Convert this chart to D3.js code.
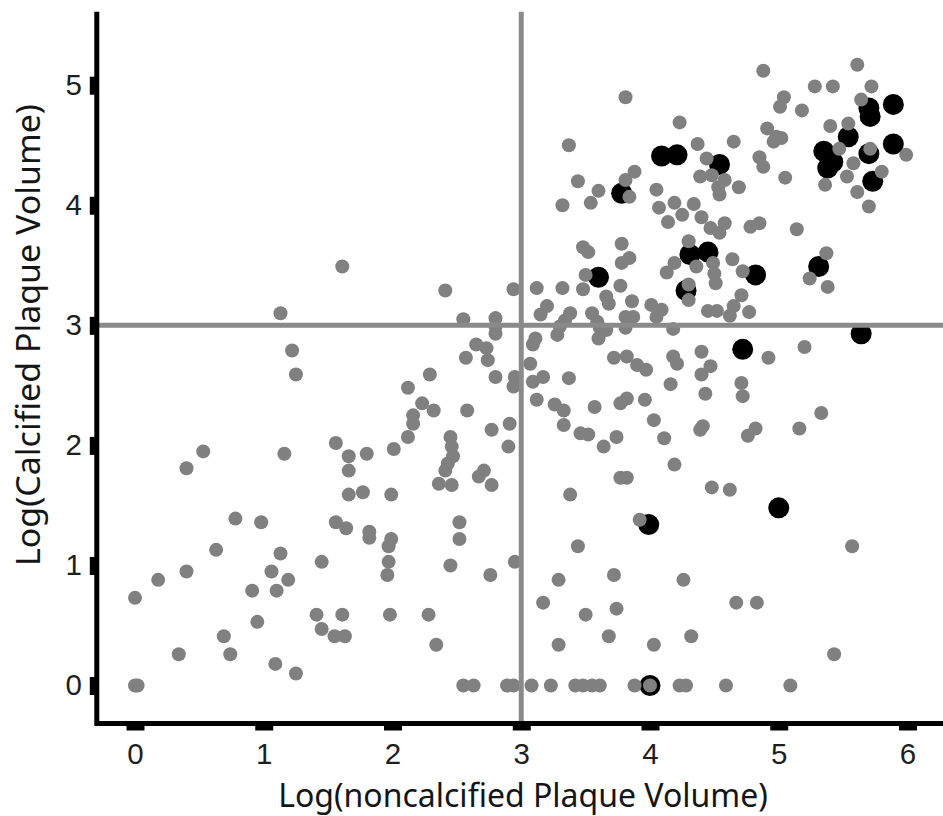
<!DOCTYPE html>
<html><head><meta charset="utf-8">
<script src="https://cdn.jsdelivr.net/npm/d3@7"></script>
<style>html,body{margin:0;padding:0;background:#fff}svg{display:block}</style>
</head><body><svg id="c" width="943" height="816"></svg>
<script>
const xTicks=[0,1,2,3,4,5,6];
const yTicks=[0,1,2,3,4,5];
const refX=3, refY=3;
const xTitle="Log(noncalcified Plaque Volume)";
const yTitle="Log(Calcified Plaque Volume)";
const zeroRowX=[2.55,2.63,2.89,2.94,3.08,3.23,3.42,3.48,3.55,3.61,3.88,4.00,4.23,4.28,4.59,5.09];
const grayPoints=[
[0,0],[0.02,0],[0,0.73],[0.34,0.26],[0.69,0.41],[0.74,0.26],[0.95,0.53],[1.09,0.18],[1.25,0.10],[0.18,0.88],[0.40,0.95],
[0.53,1.95],[0.40,1.81],[1.16,1.93],[1.56,2.02],[1.66,1.91],[1.80,1.93],[1.66,1.79],[1.66,1.59],[1.77,1.61],[0.78,1.39],[0.98,1.36],[1.56,1.36],[1.64,1.31],[1.82,1.28],[1.82,1.23],[0.63,1.13],[1.13,1.10],[1.06,0.95],[1.19,0.88],[1.45,1.03],[0.91,0.79],[1.10,0.79],[1.41,0.59],[1.61,0.59],[1.45,0.47],[1.55,0.41],[1.63,0.41],
[1.13,3.10],[1.22,2.79],[1.25,2.59],[1.61,3.49],
[2.41,3.29],[2.94,3.30],[3.12,3.31],[3.32,3.31],[3.48,3.30],[3.50,3.42],[3.48,3.65],[3.52,3.61],[3.78,3.68],[3.78,3.52],[3.84,3.56],[3.77,3.33],[3.66,3.24],[3.68,3.18],[3.20,3.16],[3.15,3.09],[3.38,3.10],[3.34,3.04],[3.30,2.99],[3.28,2.92],[3.55,3.10],[3.59,3.03],[3.61,2.98],[3.60,2.89],[3.81,3.07],[3.81,2.98],[2.55,3.05],[2.80,3.06],[2.80,2.99],[2.80,2.93],[3.11,2.89],[3.09,2.84],[2.65,2.84],[2.73,2.81],[2.74,2.71],[2.57,2.73],[3.07,2.68],[3.72,2.73],[3.82,2.74],[2.29,2.59],[2.80,2.57],[2.95,2.57],[2.94,2.49],[3.09,2.53],[3.17,2.57],[3.37,2.56],[2.12,2.48],[2.23,2.35],[2.32,2.29],[2.16,2.25],[2.16,2.18],[2.12,2.07],[2.58,2.29],[3.12,2.38],[3.26,2.34],[3.33,2.29],[3.57,2.32],[3.77,2.35],[3.82,2.39],[3.33,2.17],[2.91,2.18],[2.77,2.13],[2.90,1.99],[3.46,2.10],[3.52,2.09],[3.74,2.07],[3.64,1.99],[2.01,1.97],[2.45,2.07],[2.46,1.99],[2.47,1.91],[2.43,1.85],[2.41,1.79],[2.71,1.79],[2.67,1.74],[2.36,1.68],[2.46,1.67],[2.77,1.67],[3.77,1.73],[3.82,1.73],
[1.99,1.59],[3.38,1.59],[3.92,1.38],[2.52,1.36],[2.52,1.22],[1.99,1.22],[1.97,1.16],[1.97,1.03],[1.96,0.92],[2.45,1.00],[2.76,0.92],[2.95,1.03],[3.44,1.16],[3.29,0.88],[3.72,0.92],[3.17,0.69],[3.50,0.59],[3.74,0.64],[1.98,0.59],[2.28,0.59],[2.34,0.34],[3.29,0.34],[3.68,0.41],[4.03,0.34],
[4.19,1.84],[4.48,1.65],[4.62,1.63],[5.57,1.16],[4.26,0.88],[4.67,0.69],[4.83,0.69],[4.32,0.41],[5.43,0.26],
[4.30,3.70],[4.19,3.52],[4.13,3.44],[4.36,3.49],[4.49,3.52],[4.50,3.43],[4.51,3.35],[4.64,3.55],[4.72,3.45],[4.30,3.34],[4.30,3.21],[4.71,3.25],[4.01,3.17],[4.09,3.13],[4.05,3.07],[3.86,3.20],[3.87,3.07],[3.66,2.96],[4.18,2.97],[4.45,3.12],[4.52,3.12],[4.65,3.16],[4.62,3.08],[4.77,3.11],[5.37,3.60],[5.24,3.39],[5.38,3.32],[4.92,2.73],[5.20,2.82],[3.90,2.67],[3.97,2.63],[4.18,2.74],[4.21,2.68],[4.40,2.78],[4.47,2.66],[4.40,2.59],[4.16,2.51],[4.43,2.43],[4.71,2.52],[4.72,2.41],[3.96,2.38],[4.03,2.21],[4.39,2.13],[4.41,2.16],[4.82,2.14],[4.76,2.08],[5.16,2.14],[5.33,2.27],[4.11,2.06],
[3.81,4.90],[4.23,4.69],[3.37,4.50],[4.37,4.51],[4.65,4.53],[4.44,4.39],[4.39,4.24],[4.48,4.25],[4.58,4.21],[4.53,4.15],[4.54,4.09],[4.69,4.15],[3.88,4.28],[3.81,4.21],[3.84,4.07],[3.44,4.20],[3.60,4.12],[3.54,4.02],[3.32,4.00],[4.05,4.13],[4.07,3.98],[4.14,3.86],[4.19,4.02],[4.25,3.92],[4.34,4.01],[4.40,3.90],[4.47,3.81],[4.54,3.77],[4.58,3.85],
[4.88,5.12],[5.61,5.17],[5.28,4.99],[5.42,4.99],[5.72,4.99],[5.04,4.90],[5.01,4.82],[5.18,4.79],[5.64,4.88],[5.40,4.66],[5.54,4.68],[5.47,4.47],[5.71,4.47],[5.99,4.42],[5.58,4.35],[5.53,4.24],[5.80,4.28],[5.61,4.11],[5.70,3.99],[5.36,4.17],[4.91,4.64],[4.98,4.57],[5.02,4.56],[4.96,4.53],[4.85,4.40],[4.88,4.32],[5.05,4.23],[4.78,3.82],[4.85,3.85],[5.14,3.80]
];
const blackPoints=[
[3.60,3.40],[3.99,1.34],[4.00,0.00],[5.00,1.48],[4.72,2.80],[5.64,2.93],[5.31,3.49],[4.82,3.42],[4.28,3.29],
[4.31,3.59],[4.45,3.61],[4.09,4.41],[4.21,4.42],[4.54,4.34],[3.78,4.10],[5.70,4.81],[5.71,4.74],[5.89,4.84],
[5.54,4.57],[5.35,4.45],[5.42,4.36],[5.38,4.31],[5.70,4.43],[5.89,4.51],[5.73,4.20]
];

const svg=d3.select("#c");
const x=d3.scaleLinear().domain([0,6]).range([135,907.5]);
const y=d3.scaleLinear().domain([0,5]).range([685.5,85.2]);
const axX=96.8, axY=723.5, axTop=11.7, W=943;

const allGray=grayPoints.concat(zeroRowX.map(v=>[v,0]));

svg.append("g").selectAll("circle").data(blackPoints).join("circle")
  .attr("cx",d=>x(d[0])).attr("cy",d=>y(d[1])).attr("r",10.5).attr("fill","#000");
svg.append("g").selectAll("circle").data(allGray).join("circle")
  .attr("cx",d=>x(d[0])).attr("cy",d=>y(d[1])).attr("r",7).attr("fill","#808080");

// reference lines
svg.append("line").attr("x1",x(refX)).attr("x2",x(refX)).attr("y1",axTop).attr("y2",axY)
  .attr("stroke","#8a8a8a").attr("stroke-width",5);
svg.append("line").attr("x1",axX).attr("x2",W).attr("y1",y(refY)).attr("y2",y(refY))
  .attr("stroke","#8a8a8a").attr("stroke-width",5);

// axes
const tickFont="'Liberation Sans', Arial, sans-serif";
const gy=svg.append("g").attr("transform",`translate(${axX},0)`)
  .call(d3.axisLeft(y).tickValues(yTicks).tickSize(7).tickPadding(8).tickFormat(d3.format("d")));
gy.select(".domain").remove();
gy.selectAll(".tick line").attr("stroke","#000").attr("stroke-width",18);
gy.selectAll(".tick text").attr("font-family",tickFont).attr("font-size",29.5).attr("fill","#1e1e1e");

const gx=svg.append("g").attr("transform",`translate(0,${axY})`)
  .call(d3.axisBottom(x).tickValues(xTicks).tickSize(7).tickPadding(13).tickFormat(d3.format("d")));
gx.select(".domain").remove();
gx.selectAll(".tick line").attr("stroke","#000").attr("stroke-width",18);
gx.selectAll(".tick text").attr("font-family",tickFont).attr("font-size",29.5).attr("fill","#1e1e1e");

svg.append("path").attr("d",`M${axX},${axTop}V${axY}M${axX-2.5},${axY}H${W}`)
  .attr("fill","none").attr("stroke","#000").attr("stroke-width",5);

// titles
const titleFont="'Noto Sans', 'Open Sans', sans-serif";
svg.append("text").attr("x",523).attr("y",807).attr("text-anchor","middle")
  .attr("font-family",titleFont).attr("font-size",32).attr("fill","#151515").text(xTitle);
svg.append("text").attr("transform","translate(40,335) rotate(-90)").attr("text-anchor","middle")
  .attr("font-family",titleFont).attr("font-size",32).attr("fill","#151515")
  .attr("textLength",462).attr("lengthAdjust","spacingAndGlyphs").text(yTitle);
</script></body></html>
